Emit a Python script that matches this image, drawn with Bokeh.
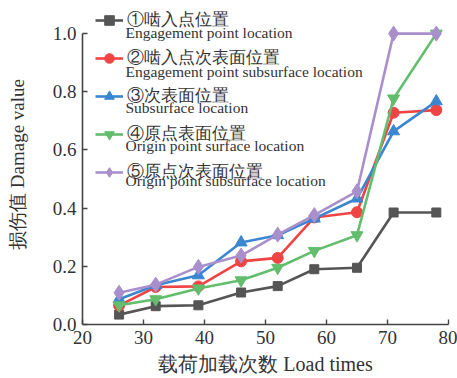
from bokeh.plotting import figure
from bokeh.models import (Range1d, Legend, LegendItem, Label, FixedTicker,
                          CustomJSTickFormatter)
from bokeh.embed import file_html
from bokeh.resources import INLINE

# Load cycles and damage values at each monitored location
load_times = [26, 32, 39, 46, 52, 58, 65, 71, 78]
engage_pt = [0.034, 0.063, 0.066, 0.110, 0.132, 0.190, 0.195, 0.385, 0.385]
engage_sub = [0.065, 0.129, 0.131, 0.217, 0.229, 0.368, 0.386, 0.728, 0.737]
subsurface = [0.087, 0.135, 0.169, 0.282, 0.307, 0.364, 0.433, 0.664, 0.767]
origin_surf = [0.066, 0.087, 0.124, 0.152, 0.195, 0.253, 0.307, 0.777, 1.000]
origin_sub = [0.109, 0.137, 0.198, 0.237, 0.309, 0.376, 0.458, 1.000, 1.000]

names_cn = ["①啮入点位置", "②啮入点次表面位置", "③次表面位置",
            "④原点表面位置", "⑤原点次表面位置"]
names_en = ["Engagement point location", "Engagement point subsurface location",
            "Subsurface location", "Origin point surface location",
            "Origin point subsurface location"]
x_ticks = [20, 30, 40, 50, 60, 70, 80]
y_ticks = [0.0, 0.2, 0.4, 0.6, 0.8, 1.0]
x_title = "载荷加载次数 Load times"
y_title = "损伤值 Damage value"

FONT = "Liberation Serif"
TXT = "#333333"
AX = "#444444"

p = figure(width=457, height=378, output_backend="svg", toolbar_location=None,
           x_range=Range1d(20, 80), y_range=Range1d(0, 1.1),
           min_border_left=82, min_border_right=9,
           min_border_top=4, min_border_bottom=54)
p.frame_width = 366
p.frame_height = 320
p.outline_line_color = None
p.grid.visible = False
p.background_fill_color = "white"

for ax in (p.xaxis[0], p.yaxis[0]):
    ax.axis_line_color = AX
    ax.axis_line_width = 1.6
    ax.major_tick_line_color = AX
    ax.major_tick_line_width = 1.4
    ax.major_tick_in = 5
    ax.major_tick_out = 0
    ax.minor_tick_line_color = None
    ax.major_label_text_font = FONT
    ax.major_label_text_font_size = "19px"
    ax.major_label_text_color = TXT
    ax.axis_label_text_font = FONT
    ax.axis_label_text_font_size = "19px"
    ax.axis_label_text_font_style = "normal"
    ax.axis_label_text_color = TXT

p.xaxis.ticker = FixedTicker(ticks=x_ticks)
p.yaxis.ticker = FixedTicker(ticks=y_ticks)
p.yaxis.formatter = CustomJSTickFormatter(code="return tick.toFixed(1);")
p.yaxis[0].bounds = (0, 1.0)
p.xaxis.major_label_standoff = 6
p.yaxis.major_label_standoff = 6
p.xaxis.axis_label = x_title
p.xaxis.axis_label_text_font_size = "20px"
p.xaxis.axis_label_standoff = 6
p.yaxis.axis_label = y_title
p.yaxis.axis_label_standoff = 22

series = [
    (engage_pt, "#555555", "square", 9),
    (engage_sub, "#ef4444", "circle", 11),
    (subsurface, "#3a86d0", "triangle", 12),
    (origin_surf, "#62bd6c", "inverted_triangle", 12),
    (origin_sub, "#a98fcc", "diamond", 15),
]

items = []
for (vals, color, marker, size), cn in zip(series, names_cn):
    ln = p.line(load_times, vals, line_color=color, line_width=2.6)
    sc = p.scatter(load_times, vals, marker=marker, size=size,
                   fill_color=color, line_color=color)
    items.append(LegendItem(label=cn, renderers=[ln, sc]))

legend = Legend(items=items, location=(13, 140),
                label_text_font=FONT, label_text_font_size="16.5px",
                label_text_color=TXT, label_standoff=4,
                glyph_width=28, glyph_height=24, label_height=24,
                spacing=14, padding=6, margin=0,
                border_line_color=None, background_fill_alpha=0)
p.add_layout(legend, "center")

# English line under each legend entry (screen units from frame bottom-left)
row_y = [292, 253, 217, 179, 144]
for txt, yy in zip(names_en, row_y):
    p.add_layout(Label(x=43, y=yy, x_units="screen", y_units="screen",
                       text=txt, text_font=FONT, text_font_size="15.5px",
                       text_color=TXT, text_baseline="middle"))

open("out.html", "w").write(file_html(p, INLINE))
